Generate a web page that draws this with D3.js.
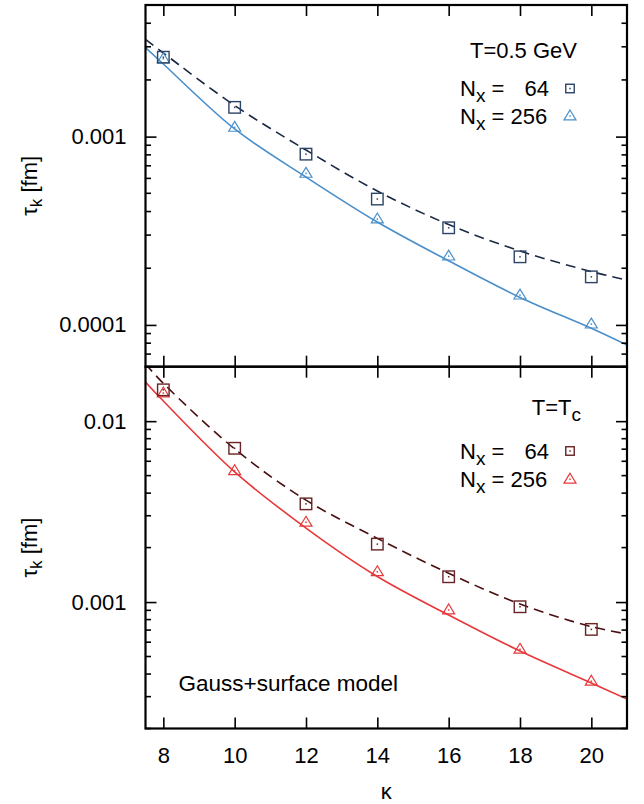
<!DOCTYPE html>
<html>
<head>
<meta charset="utf-8">
<script src="https://cdn.jsdelivr.net/npm/d3@7"></script>
<style>
	body { margin: 0; background: #fff; }
	svg text { font-family: 'Liberation Sans', Arial, Helvetica, sans-serif; fill: #000; }
</style>
</head>
<body>
<svg id="chart" width="644" height="804"></svg>
<script>
// Lattice points (kappa) and fit sample points
const kappa = [ 8, 10, 12, 14, 16, 18, 20 ];
const fitKappa = [ 7.5, 8, 10, 12, 14, 16, 18, 20, 21 ];
const xTicks = [ 8, 10, 12, 14, 16, 18, 20 ];

// T = 0.5 GeV
const hotNx64 = [ 2.64e-3, 1.43e-3, 8.07e-4, 4.66e-4, 3.28e-4, 2.30e-4, 1.80e-4 ];
const hotNx256 = [ 2.59e-3, 1.12e-3, 6.38e-4, 3.65e-4, 2.32e-4, 1.44e-4, 1.01e-4 ];
const hotFit64 = [ 3.28e-3, 2.78e-3, 1.463e-3, 8.49e-4, 5.14e-4, 3.41e-4, 2.47e-4, 1.92e-4, 1.73e-4 ];
const hotFit256 = [ 2.97e-3, 2.43e-3, 1.098e-3, 6.10e-4, 3.52e-4, 2.19e-4, 1.40e-4, 9.6e-5, 7.82e-5 ];
const hotYTicks = [ 0.0001, 0.001 ];
const hotYLabels = [ '0.0001', '0.001' ];

// T = Tc
const tcNx64 = [ 1.49e-2, 7.08e-3, 3.49e-3, 2.09e-3, 1.38e-3, 9.42e-4, 7.06e-4 ];
const tcNx256 = [ 1.43e-2, 5.32e-3, 2.76e-3, 1.47e-3, 9.04e-4, 5.48e-4, 3.65e-4 ];
const tcFit64 = [ 2.07e-2, 1.619e-2, 7.02e-3, 3.66e-3, 2.25e-3, 1.442e-3, 9.75e-4, 7.31e-4, 6.66e-4 ];
const tcFit256 = [ 1.646e-2, 1.292e-2, 5.24e-3, 2.566e-3, 1.384e-3, 8.48e-4, 5.36e-4, 3.57e-4, 2.91e-4 ];
const tcYTicks = [ 0.001, 0.01 ];
const tcYLabels = [ '0.001', '0.01' ];

const svg = d3.select( '#chart' );
const left = 145.5;
const right = 627;
const fontSize = 22;

const x = d3.scaleLinear().domain( [ 7.5, 21 ] ).range( [ left, right ] );

function marker( g, type, cx, cy, color, size ) {
	if ( type === 'square' ) {
		g.append( 'rect' )
			.attr( 'x', cx - size / 2 )
			.attr( 'y', cy - size / 2 )
			.attr( 'width', size )
			.attr( 'height', size )
			.attr( 'fill', 'none' )
			.attr( 'stroke', color )
			.attr( 'stroke-width', 1.4 );
	} else {
		const h = size / 2;
		g.append( 'path' )
			.attr( 'd', `M${ cx },${ cy - h }L${ cx + h },${ cy + h * 0.65 }L${ cx - h },${ cy + h * 0.65 }Z` )
			.attr( 'fill', 'none' )
			.attr( 'stroke', color )
			.attr( 'stroke-width', 1.2 );
	}
	g.append( 'rect' )
		.attr( 'x', cx - 0.75 )
		.attr( 'y', cy - 0.75 )
		.attr( 'width', 1.5 )
		.attr( 'height', 1.5 )
		.attr( 'fill', color );
}

function drawPanel( opts ) {
	const y = d3.scaleLog().domain( opts.domain ).range( [ opts.bottom, opts.top ] );
	const g = svg.append( 'g' );

	const clipId = 'clip-' + opts.id;
	svg.append( 'clipPath' ).attr( 'id', clipId )
		.append( 'rect' )
		.attr( 'x', left )
		.attr( 'y', opts.top )
		.attr( 'width', right - left )
		.attr( 'height', opts.bottom - opts.top );

	// Fit curves
	const line = d3.line()
		.x( ( d, i ) => x( fitKappa[ i ] ) )
		.y( ( d ) => y( d ) )
		.curve( d3.curveCatmullRom.alpha( 0.5 ) );

	g.append( 'path' )
		.datum( opts.fit256 )
		.attr( 'clip-path', `url(#${ clipId })` )
		.attr( 'fill', 'none' )
		.attr( 'stroke', opts.lightColor )
		.attr( 'stroke-width', 1.6 )
		.attr( 'd', line );

	g.append( 'path' )
		.datum( opts.fit64 )
		.attr( 'clip-path', `url(#${ clipId })` )
		.attr( 'fill', 'none' )
		.attr( 'stroke', opts.darkColor )
		.attr( 'stroke-width', 1.6 )
		.attr( 'stroke-dasharray', '10,6' )
		.attr( 'd', line );

	// Data points
	opts.nx256.forEach( ( v, i ) => marker( g, 'triangle', x( kappa[ i ] ), y( v ), opts.lightColor, 12 ) );
	opts.nx64.forEach( ( v, i ) => marker( g, 'square', x( kappa[ i ] ), y( v ), opts.squareColor, 11.5 ) );

	// Minor ticks from the log scale
	const minor = y.ticks().filter( ( t ) => opts.yTicks.indexOf( t ) < 0 );

	[ [ left, 1 ], [ right, -1 ] ].forEach( ( [ px, dir ] ) => {
		g.selectAll( null )
			.data( minor )
			.enter()
			.append( 'line' )
			.attr( 'x1', px )
			.attr( 'x2', px + dir * 5.5 )
			.attr( 'y1', ( d ) => y( d ) )
			.attr( 'y2', ( d ) => y( d ) )
			.attr( 'stroke', '#000' )
			.attr( 'stroke-width', 1.6 );
	} );

	// Major ticks with labels
	const yAxis = d3.axisLeft( y )
		.tickValues( opts.yTicks )
		.tickFormat( ( d, i ) => opts.yLabels[ i ] )
		.tickSize( -11 )
		.tickPadding( 19 );
	const ya = g.append( 'g' ).attr( 'transform', `translate(${ left },0)` ).call( yAxis );

	const yAxisR = d3.axisRight( y )
		.tickValues( opts.yTicks )
		.tickFormat( '' )
		.tickSize( -11 );
	const yr = g.append( 'g' ).attr( 'transform', `translate(${ right },0)` ).call( yAxisR );

	const xTop = d3.axisTop( x ).tickValues( xTicks ).tickFormat( '' ).tickSize( -11 );
	const xt = g.append( 'g' ).attr( 'transform', `translate(0,${ opts.top })` ).call( xTop );

	const xBottom = d3.axisBottom( x ).tickValues( xTicks ).tickSize( -11 ).tickPadding( 19 );
	if ( ! opts.showX ) {
		xBottom.tickFormat( '' );
	}
	const xb = g.append( 'g' ).attr( 'transform', `translate(0,${ opts.bottom })` ).call( xBottom );

	[ ya, yr, xt, xb ].forEach( ( a ) => {
		a.select( '.domain' ).remove();
		a.selectAll( 'line' ).attr( 'stroke-width', 1.6 );
		a.selectAll( 'text' )
			.attr( 'font-family', "'Liberation Sans', Arial, Helvetica, sans-serif" )
			.attr( 'font-size', fontSize )
			.attr( 'fill', '#000' );
	} );

	// Frame
	g.append( 'rect' )
		.attr( 'x', left )
		.attr( 'y', opts.top )
		.attr( 'width', right - left )
		.attr( 'height', opts.bottom - opts.top )
		.attr( 'fill', 'none' )
		.attr( 'stroke', '#000' )
		.attr( 'stroke-width', 2.2 );

	// Y label
	const yl = g.append( 'text' )
		.attr( 'transform', `translate(37,${ ( opts.top + opts.bottom ) / 2 }) rotate(-90)` )
		.attr( 'text-anchor', 'middle' )
		.attr( 'font-size', fontSize );
	yl.append( 'tspan' ).text( 'τ' );
	yl.append( 'tspan' ).attr( 'dy', 5 ).attr( 'font-size', 17 ).text( 'k' );
	yl.append( 'tspan' ).attr( 'dy', -5 ).text( ' [fm]' );

	// Legend
	const lg = g.append( 'g' );
	const title = lg.append( 'text' )
		.attr( 'x', opts.titleX )
		.attr( 'y', opts.titleY )
		.attr( 'text-anchor', 'end' )
		.attr( 'font-size', fontSize );
	opts.title( title );

	const rows = [ { label: '64', type: 'square', color: opts.squareColor, size: 8.5 },
		{ label: '256', type: 'triangle', color: opts.lightColor, size: 12 } ];
	rows.forEach( ( r, i ) => {
		const by = opts.rowY[ i ];
		const t = lg.append( 'text' )
			.attr( 'x', 460 )
			.attr( 'y', by )
			.attr( 'font-size', fontSize );
		t.append( 'tspan' ).text( 'N' );
		t.append( 'tspan' ).attr( 'dy', 6 ).attr( 'font-size', 19 ).text( 'x' );
		t.append( 'tspan' ).attr( 'dy', -6 ).text( i === 0 ? ' =' : ' = 256' );
		if ( i === 0 ) {
			lg.append( 'text' )
				.attr( 'x', 549 )
				.attr( 'y', by )
				.attr( 'text-anchor', 'end' )
				.attr( 'font-size', fontSize )
				.text( r.label );
		}
		marker( lg, r.type, 570, by - 7.5, r.color, r.size );
	} );

	return g;
}

drawPanel( {
	id: 'hot',
	top: 5,
	bottom: 366.7,
	domain: [ 6e-5, 5e-3 ],
	nx64: hotNx64,
	nx256: hotNx256,
	fit64: hotFit64,
	fit256: hotFit256,
	yTicks: hotYTicks,
	yLabels: hotYLabels,
	darkColor: '#1b2a44',
	squareColor: '#2c4466',
	lightColor: '#4a8fca',
	showX: false,
	titleX: 577,
	titleY: 57.5,
	title: ( t ) => t.text( 'T=0.5 GeV' ),
	rowY: [ 96, 123.5 ],
} );

drawPanel( {
	id: 'tc',
	top: 366.7,
	bottom: 728.5,
	domain: [ 2e-4, 2e-2 ],
	nx64: tcNx64,
	nx256: tcNx256,
	fit64: tcFit64,
	fit256: tcFit256,
	yTicks: tcYTicks,
	yLabels: tcYLabels,
	darkColor: '#4a0f12',
	squareColor: '#6a2224',
	lightColor: '#e8383b',
	showX: true,
	titleX: 581,
	titleY: 415,
	title: ( t ) => {
		t.append( 'tspan' ).text( 'T=T' );
		t.append( 'tspan' ).attr( 'dy', 6 ).attr( 'font-size', 19 ).text( 'c' );
	},
	rowY: [ 458.5, 486.7 ],
} );

svg.append( 'text' )
	.attr( 'x', 178.5 )
	.attr( 'y', 690.7 )
	.attr( 'font-size', 22.5 )
	.text( 'Gauss+surface model' );

svg.append( 'text' )
	.attr( 'x', x( 14.25 ) )
	.attr( 'y', 799 )
	.attr( 'text-anchor', 'middle' )
	.attr( 'font-size', fontSize )
	.text( 'κ' );
</script>
</body>
</html>
